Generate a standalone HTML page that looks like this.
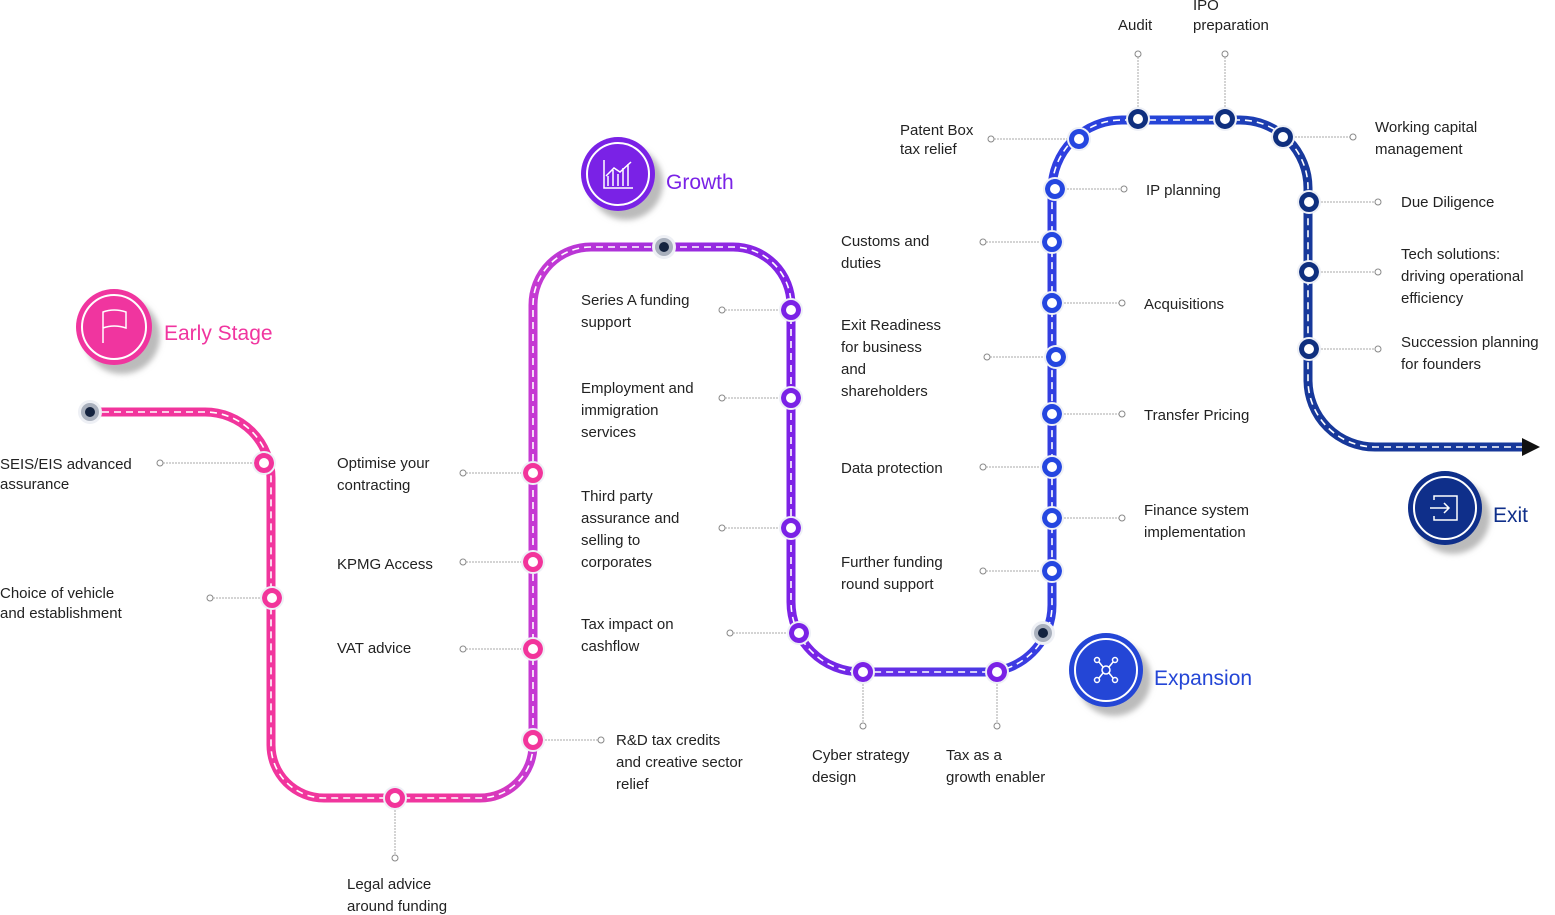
<!DOCTYPE html>
<html><head><meta charset="utf-8"><style>
html,body{margin:0;padding:0;background:#fff;}
svg{display:block;}
text{font-family:"Liberation Sans",sans-serif;font-size:15px;fill:#222;}
.h{font-size:21px;}
</style></head><body>
<svg width="1555" height="915" viewBox="0 0 1555 915" xmlns="http://www.w3.org/2000/svg">
<defs>
<linearGradient id="g" gradientUnits="userSpaceOnUse" x1="0" y1="0" x2="1555" y2="0">
<stop offset="0" stop-color="#f2349b"/>
<stop offset="0.29" stop-color="#f0369e"/>
<stop offset="0.34" stop-color="#c63ad2"/>
<stop offset="0.51" stop-color="#7d22e6"/>
<stop offset="0.6" stop-color="#5a34e6"/>
<stop offset="0.68" stop-color="#2f3fe0"/>
<stop offset="0.76" stop-color="#2446d6"/>
<stop offset="0.84" stop-color="#17389a"/>
<stop offset="1" stop-color="#17389a"/>
</linearGradient>
<filter id="sh" x="-50%" y="-50%" width="200%" height="200%"><feGaussianBlur stdDeviation="3"/></filter>
</defs>

<!-- connectors -->
<g stroke="#aaa" stroke-width="1" fill="#fff" stroke-dasharray="2 1">
<line x1="160" y1="463" x2="264" y2="463"/>
<line x1="210" y1="598" x2="272" y2="598"/>
<line x1="395" y1="798" x2="395" y2="858"/>
<line x1="463" y1="473" x2="533" y2="473"/>
<line x1="463" y1="562" x2="533" y2="562"/>
<line x1="463" y1="649" x2="533" y2="649"/>
<line x1="533" y1="740" x2="601" y2="740"/>
<line x1="722" y1="310" x2="791" y2="310"/>
<line x1="722" y1="398" x2="791" y2="398"/>
<line x1="722" y1="528" x2="791" y2="528"/>
<line x1="730" y1="633" x2="799" y2="633"/>
<line x1="863" y1="672" x2="863" y2="726"/>
<line x1="997" y1="672" x2="997" y2="726"/>
<line x1="983" y1="571" x2="1052" y2="571"/>
<line x1="1052" y1="518" x2="1122" y2="518"/>
<line x1="983" y1="467" x2="1052" y2="467"/>
<line x1="1052" y1="414" x2="1122" y2="414"/>
<line x1="987" y1="357" x2="1056" y2="357"/>
<line x1="1052" y1="303" x2="1122" y2="303"/>
<line x1="983" y1="242" x2="1052" y2="242"/>
<line x1="1055" y1="189" x2="1124" y2="189"/>
<line x1="991" y1="139" x2="1079" y2="139"/>
<line x1="1138" y1="54" x2="1138" y2="119"/>
<line x1="1225" y1="54" x2="1225" y2="119"/>
<line x1="1283" y1="137" x2="1353" y2="137"/>
<line x1="1309" y1="202" x2="1378" y2="202"/>
<line x1="1309" y1="272" x2="1378" y2="272"/>
<line x1="1309" y1="349" x2="1378" y2="349"/>
</g>
<g stroke="#888" stroke-width="1" fill="#fff">
<circle cx="160" cy="463" r="3"/><circle cx="210" cy="598" r="3"/><circle cx="395" cy="858" r="3"/>
<circle cx="463" cy="473" r="3"/><circle cx="463" cy="562" r="3"/><circle cx="463" cy="649" r="3"/><circle cx="601" cy="740" r="3"/>
<circle cx="722" cy="310" r="3"/><circle cx="722" cy="398" r="3"/><circle cx="722" cy="528" r="3"/><circle cx="730" cy="633" r="3"/>
<circle cx="863" cy="726" r="3"/><circle cx="997" cy="726" r="3"/><circle cx="983" cy="571" r="3"/><circle cx="1122" cy="518" r="3"/>
<circle cx="983" cy="467" r="3"/><circle cx="1122" cy="414" r="3"/><circle cx="987" cy="357" r="3"/><circle cx="1122" cy="303" r="3"/>
<circle cx="983" cy="242" r="3"/><circle cx="1124" cy="189" r="3"/><circle cx="991" cy="139" r="3"/><circle cx="1138" cy="54" r="3"/>
<circle cx="1225" cy="54" r="3"/><circle cx="1353" cy="137" r="3"/><circle cx="1378" cy="202" r="3"/><circle cx="1378" cy="272" r="3"/><circle cx="1378" cy="349" r="3"/>
</g>

<!-- main path -->
<path d="M90 412 H205 A66 66 0 0 1 271 478 V745 A53 53 0 0 0 324 798 H480 A53 53 0 0 0 533 745 V305 A58 58 0 0 1 591 247 H733 A58 58 0 0 1 791 305 V602 A70 70 0 0 0 861 672 H985 A67 67 0 0 0 1052 605 V190 A70 70 0 0 1 1122 120 H1240 A68 68 0 0 1 1308 188 V380 A67 67 0 0 0 1375 447 H1525" fill="none" stroke="url(#g)" stroke-width="9"/>
<path d="M90 412 H205 A66 66 0 0 1 271 478 V745 A53 53 0 0 0 324 798 H480 A53 53 0 0 0 533 745 V305 A58 58 0 0 1 591 247 H733 A58 58 0 0 1 791 305 V602 A70 70 0 0 0 861 672 H985 A67 67 0 0 0 1052 605 V190 A70 70 0 0 1 1122 120 H1240 A68 68 0 0 1 1308 188 V380 A67 67 0 0 0 1375 447 H1525" fill="none" stroke="#fff" stroke-width="1.6" stroke-dasharray="7 5"/>
<polygon points="1522,438 1540,447 1522,456" fill="#111"/>

<!-- start nodes -->
<g>
<circle cx="90" cy="412" r="12" fill="#eef0f5"/><circle cx="90" cy="412" r="9" fill="#a9b0bd"/><circle cx="90" cy="412" r="5" fill="#14233f"/>
<circle cx="664" cy="247" r="12" fill="#eef0f5"/><circle cx="664" cy="247" r="9" fill="#a9b0bd"/><circle cx="664" cy="247" r="5" fill="#14233f"/>
<circle cx="1043" cy="633" r="12" fill="#eef0f5"/><circle cx="1043" cy="633" r="9" fill="#a9b0bd"/><circle cx="1043" cy="633" r="5" fill="#14233f"/>
</g>

<!-- ring nodes -->
<g fill="#fff" stroke-width="5">
<g stroke="#f2349b">
<circle cx="264" cy="463" r="7.5"/><circle cx="272" cy="598" r="7.5"/><circle cx="395" cy="798" r="7.5"/>
<circle cx="533" cy="740" r="7.5"/><circle cx="533" cy="649" r="7.5"/><circle cx="533" cy="562" r="7.5"/><circle cx="533" cy="473" r="7.5"/>
</g>
<g stroke="#7a22e6">
<circle cx="791" cy="310" r="7.5"/><circle cx="791" cy="398" r="7.5"/><circle cx="791" cy="528" r="7.5"/>
<circle cx="799" cy="633" r="7.5"/><circle cx="863" cy="672" r="7.5"/><circle cx="997" cy="672" r="7.5"/>
</g>
<g stroke="#2446e0">
<circle cx="1052" cy="571" r="7.5"/><circle cx="1052" cy="518" r="7.5"/><circle cx="1052" cy="467" r="7.5"/>
<circle cx="1052" cy="414" r="7.5"/><circle cx="1056" cy="357" r="7.5"/><circle cx="1052" cy="303" r="7.5"/>
<circle cx="1052" cy="242" r="7.5"/><circle cx="1055" cy="189" r="7.5"/><circle cx="1079" cy="139" r="7.5"/>
</g>
<g stroke="#0f2f7e">
<circle cx="1138" cy="119" r="7.5"/><circle cx="1225" cy="119" r="7.5"/><circle cx="1283" cy="137" r="7.5"/>
<circle cx="1309" cy="202" r="7.5"/><circle cx="1309" cy="272" r="7.5"/><circle cx="1309" cy="349" r="7.5"/>
</g>
</g>
<g fill="none" stroke="#eef0f6" stroke-width="2">
<circle cx="264" cy="463" r="11"/><circle cx="272" cy="598" r="11"/><circle cx="395" cy="798" r="11"/>
<circle cx="533" cy="740" r="11"/><circle cx="533" cy="649" r="11"/><circle cx="533" cy="562" r="11"/><circle cx="533" cy="473" r="11"/>
<circle cx="791" cy="310" r="11"/><circle cx="791" cy="398" r="11"/><circle cx="791" cy="528" r="11"/>
<circle cx="799" cy="633" r="11"/><circle cx="863" cy="672" r="11"/><circle cx="997" cy="672" r="11"/>
<circle cx="1052" cy="571" r="11"/><circle cx="1052" cy="518" r="11"/><circle cx="1052" cy="467" r="11"/>
<circle cx="1052" cy="414" r="11"/><circle cx="1056" cy="357" r="11"/><circle cx="1052" cy="303" r="11"/>
<circle cx="1052" cy="242" r="11"/><circle cx="1055" cy="189" r="11"/><circle cx="1079" cy="139" r="11"/>
<circle cx="1138" cy="119" r="11"/><circle cx="1225" cy="119" r="11"/><circle cx="1283" cy="137" r="11"/>
<circle cx="1309" cy="202" r="11"/><circle cx="1309" cy="272" r="11"/><circle cx="1309" cy="349" r="11"/>
</g>

<!-- badges -->
<g>
<circle cx="122" cy="336" r="38" fill="#bbb" filter="url(#sh)"/>
<circle cx="114" cy="327" r="38" fill="#f0359f"/><circle cx="114" cy="327" r="32" fill="none" stroke="#fff" stroke-width="2"/>
<path d="M103 343 V312 Q114 308 126 312 V328 Q114 324 103 328" fill="none" stroke="#fff" stroke-width="1.5"/>
<text x="164" y="340" class="h" style="fill:#f0359f">Early Stage</text>

<circle cx="626" cy="183" r="37" fill="#bbb" filter="url(#sh)"/>
<circle cx="618" cy="174" r="37" fill="#7a22e6"/><circle cx="618" cy="174" r="31" fill="none" stroke="#fff" stroke-width="2"/>
<path d="M604 160 V188 H633 M608 186 V176 M613 186 V170 M618 186 V174 M623 186 V168 M628 186 V164 M606 176 L614 168 L620 172 L631 162" fill="none" stroke="#fff" stroke-width="1.5"/>
<text x="666" y="189" class="h" style="fill:#7a22e6">Growth</text>

<circle cx="1114" cy="679" r="37" fill="#bbb" filter="url(#sh)"/>
<circle cx="1106" cy="670" r="37" fill="#2446d6"/><circle cx="1106" cy="670" r="31" fill="none" stroke="#fff" stroke-width="2"/>
<g stroke="#fff" stroke-width="1.5" fill="none"><circle cx="1106" cy="670" r="4"/><circle cx="1097" cy="660" r="2.5"/><circle cx="1115" cy="660" r="2.5"/><circle cx="1097" cy="680" r="2.5"/><circle cx="1115" cy="680" r="2.5"/><path d="M1099 662 L1103 667 M1113 662 L1109 667 M1099 678 L1103 673 M1113 678 L1109 673"/></g>
<text x="1154" y="685" class="h" style="fill:#2446d6">Expansion</text>

<circle cx="1453" cy="517" r="37" fill="#bbb" filter="url(#sh)"/>
<circle cx="1445" cy="508" r="37" fill="#0f2f8a"/><circle cx="1445" cy="508" r="31" fill="none" stroke="#fff" stroke-width="2"/>
<path d="M1434 500 V496 H1457 V520 H1434 V516 M1430 508 H1449 M1444 503 L1449 508 L1444 513" fill="none" stroke="#fff" stroke-width="1.5"/>
<text x="1493" y="522" class="h" style="fill:#0f2f8a">Exit</text>
</g>

<!-- labels -->
<text x="0" y="469">SEIS/EIS advanced</text><text x="0" y="489">assurance</text>
<text x="0" y="598">Choice of vehicle</text><text x="0" y="618">and establishment</text>
<text x="347" y="889">Legal advice</text><text x="347" y="911">around funding</text>
<text x="337" y="468">Optimise your</text><text x="337" y="490">contracting</text>
<text x="337" y="569">KPMG Access</text>
<text x="337" y="653">VAT advice</text>
<text x="616" y="745">R&amp;D tax credits</text><text x="616" y="767">and creative sector</text><text x="616" y="789">relief</text>
<text x="581" y="305">Series A funding</text><text x="581" y="327">support</text>
<text x="581" y="393">Employment and</text><text x="581" y="415">immigration</text><text x="581" y="437">services</text>
<text x="581" y="501">Third party</text><text x="581" y="523">assurance and</text><text x="581" y="545">selling to</text><text x="581" y="567">corporates</text>
<text x="581" y="629">Tax impact on</text><text x="581" y="651">cashflow</text>
<text x="812" y="760">Cyber strategy</text><text x="812" y="782">design</text>
<text x="946" y="760">Tax as a</text><text x="946" y="782">growth enabler</text>
<text x="841" y="246">Customs and</text><text x="841" y="268">duties</text>
<text x="841" y="330">Exit Readiness</text><text x="841" y="352">for business</text><text x="841" y="374">and</text><text x="841" y="396">shareholders</text>
<text x="841" y="473">Data protection</text>
<text x="841" y="567">Further funding</text><text x="841" y="589">round support</text>
<text x="900" y="135">Patent Box</text><text x="900" y="154">tax relief</text>
<text x="1146" y="195">IP planning</text>
<text x="1144" y="309">Acquisitions</text>
<text x="1144" y="420">Transfer Pricing</text>
<text x="1144" y="515">Finance system</text><text x="1144" y="537">implementation</text>
<text x="1118" y="30">Audit</text>
<text x="1193" y="10">IPO</text><text x="1193" y="30">preparation</text>
<text x="1375" y="132">Working capital</text><text x="1375" y="154">management</text>
<text x="1401" y="207">Due Diligence</text>
<text x="1401" y="259">Tech solutions:</text><text x="1401" y="281">driving operational</text><text x="1401" y="303">efficiency</text>
<text x="1401" y="347">Succession planning</text><text x="1401" y="369">for founders</text>
</svg>
</body></html>
